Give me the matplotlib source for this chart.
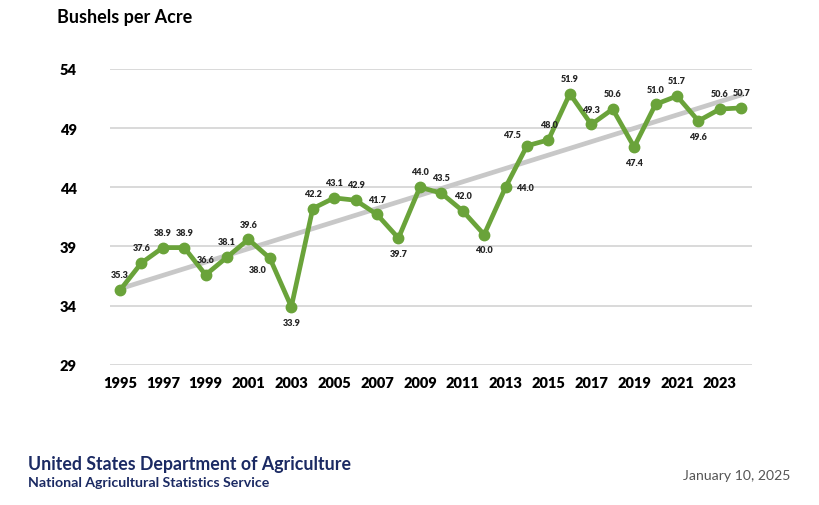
import numpy as np
import matplotlib.pyplot as plt

plt.rcParams['font.family'] = ['Lato', 'DejaVu Sans']

# Yield data, bushels per acre
years = list(range(1995, 2025))
yields = [35.3, 37.6, 38.9, 38.9, 36.6, 38.1, 39.6, 38.0, 33.9, 42.2,
          43.1, 42.9, 41.7, 39.7, 44.0, 43.5, 42.0, 40.0, 44.0, 47.5,
          48.0, 51.9, 49.3, 50.6, 47.4, 51.0, 51.7, 49.6, 50.6, 50.7]
y_ticks = [29, 34, 39, 44, 49, 54]
x_ticks = list(range(1995, 2024, 2))

# where each data label sits relative to its point
label_pos = ['a', 'a', 'a', 'a', 'a', 'a', 'a', 'bl', 'b', 'a',
             'a', 'a', 'a', 'b', 'a', 'a', 'a', 'b', 'r', 'al',
             'a', 'a', 'a', 'a', 'b', 'a', 'a', 'b', 'a', 'a']
offsets = {'a': (0, 11), 'b': (0, -11), 'bl': (-9, -8), 'r': (14, 0), 'al': (-11, 8)}

green = '#6AA33A'

fig = plt.figure(figsize=(8.2, 5.06), dpi=100)
ax = fig.add_axes([0.134, 0.277, 0.783, 0.585])

# linear trend like the Excel trendline
coef = np.polyfit(years, yields, 1)
trend = np.polyval(coef, years)
ax.plot(years, trend, color='#C8C8C8', linewidth=3.4, zorder=2)

ax.plot(years, yields, color=green, linewidth=3.4, marker='o', markersize=7.5, zorder=3)

for x, y, p in zip(years, yields, label_pos):
    dx, dy = offsets[p]
    ax.annotate(f'{y:.1f}', (x, y), xytext=(dx, dy), textcoords='offset points',
                ha='center', va='center', fontsize=6.5, fontweight='heavy', color='#262626')

ax.set_ylim(29, 54)
ax.set_xlim(1994.53, 2024.5)
ax.set_yticks(y_ticks)
ax.set_xticks(x_ticks)
ax.tick_params(axis='both', length=0, labelsize=10.5, colors='#000000')
ax.tick_params(axis='y', pad=24)
ax.tick_params(axis='x', pad=8)
for lbl in ax.get_xticklabels() + ax.get_yticklabels():
    lbl.set_fontweight('heavy')
ax.grid(axis='y', color='#D9D9D9', linewidth=1.4)
ax.set_axisbelow(True)
for s in ax.spines.values():
    s.set_visible(False)

fig.text(57/820, 1 - 18/506, 'Bushels per Acre', fontsize=13, fontweight='bold', va='center')
fig.text(28/820, 1 - 465/506, 'United States Department of Agriculture', fontsize=12.8,
         fontweight='bold', color='#1B2A63', va='center')
fig.text(28/820, 1 - 483/506, 'National Agricultural Statistics Service', fontsize=10.2,
         fontweight='bold', color='#1B2A63', va='center')
fig.text(790/820, 1 - 476/506, 'January 10, 2025', fontsize=10.1, color='#555555',
         ha='right', va='center')

fig.savefig('out.png', dpi=100)
